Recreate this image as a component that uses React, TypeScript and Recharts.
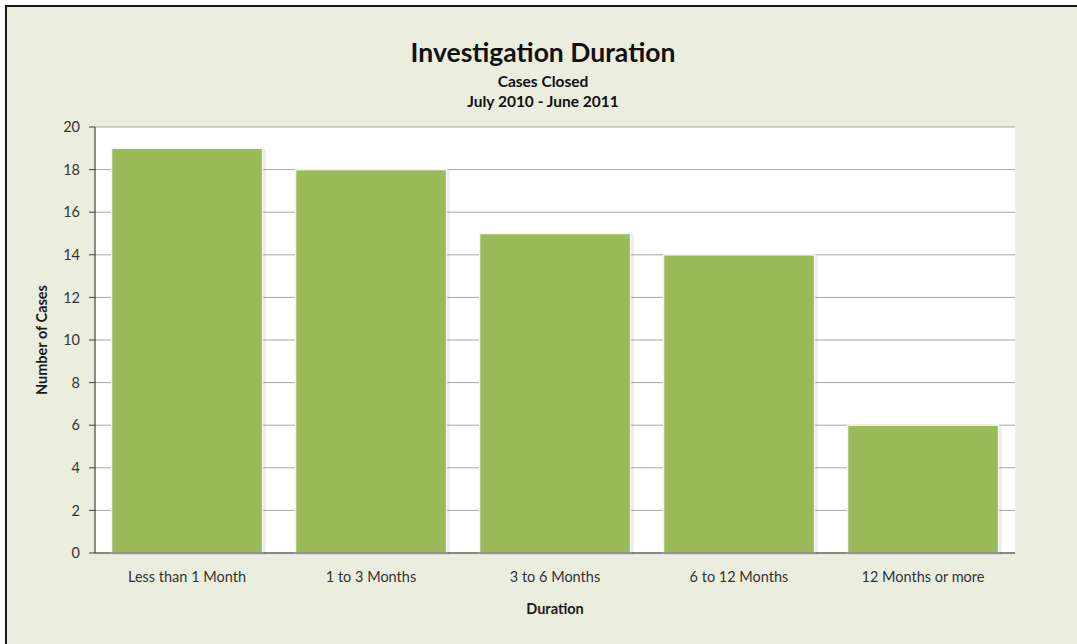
import { BarChart, Bar, XAxis, YAxis, CartesianGrid, Label } from "recharts";

const categories = [
  "Less than 1 Month",
  "1 to 3 Months",
  "3 to 6 Months",
  "6 to 12 Months",
  "12 Months or more",
];
const caseCounts = [19, 18, 15, 14, 6];
const yTicks = [0, 2, 4, 6, 8, 10, 12, 14, 16, 18, 20];

const data = categories.map((name, i) => ({ name, cases: caseCounts[i] }));

const FONT = "Lato, 'Open Sans', sans-serif";

// bar with a thin white rim and a soft shadow, like the Excel style
function ShadowBar(props: any) {
  const { x, y, width, height, fill } = props;
  if (!height || height <= 0) return null;
  return (
    <g>
      <rect x={x + 1} y={y + 1} width={width + 2} height={height + 1} fill="#000" opacity={0.08} />
      <rect x={x} y={y} width={width} height={height} fill={fill} stroke="#f4f4f4" strokeWidth={1.5} />
    </g>
  );
}

export default function App() {
  return (
    <div
      style={{
        position: "absolute",
        left: 0,
        top: 0,
        width: 1077,
        height: 644,
        background: "#fff",
        fontFamily: FONT,
        overflow: "hidden",
      }}
    >
      <div
        style={{
          position: "absolute",
          left: 5,
          top: 5,
          width: 1080,
          height: 650,
          background: "#ebeedf",
          borderLeft: "2px solid #1a1a1a",
          borderTop: "2px solid #1a1a1a",
        }}
      />
      <div
        style={{
          position: "absolute",
          left: 0,
          top: 0,
          width: 1077,
          height: 644,
        }}
      >
        <BarChart
          width={1077}
          height={644}
          data={data}
          margin={{ top: 127, right: 62, bottom: 51, left: 35 }}
          barCategoryGap="9%"
        >
          <CartesianGrid vertical={false} stroke="#a6a6a6" fill="#ffffff" />
          <XAxis
            dataKey="name"
            height={40}
            tickLine={false}
            axisLine={{ stroke: "#404040", strokeWidth: 1.2 }}
            tickMargin={13}
            tick={{ fill: "#333", fontSize: 14.5, fontFamily: FONT }}
          >
            <Label
              value="Duration"
              position="bottom"
              offset={11}
              style={{ fill: "#1a1a1a", fontSize: 14.5, fontWeight: 700, fontFamily: FONT }}
            />
          </XAxis>
          <YAxis
            width={60}
            domain={[0, 20]}
            ticks={yTicks}
            interval={0}
            tickSize={6}
            tickMargin={9}
            tickLine={{ stroke: "#404040" }}
            axisLine={{ stroke: "#404040", strokeWidth: 1.2 }}
            tick={{ fill: "#333", fontSize: 14.5, fontFamily: FONT }}
          >
            <Label
              value="Number of Cases"
              angle={-90}
              position="center"
              dx={-23}
              style={{ fill: "#1a1a1a", fontSize: 14.5, fontWeight: 700, fontFamily: FONT, textAnchor: "middle" }}
            />
          </YAxis>
          <YAxis
            yAxisId="frame"
            orientation="right"
            width={0}
            tick={false}
            tickLine={false}
            axisLine={{ stroke: "#8c8c8c", strokeWidth: 1.5 }}
          />
          <Bar dataKey="cases" fill="#9bbb59" shape={<ShadowBar />} isAnimationActive={false} />
        </BarChart>
      </div>
      <div
        style={{
          position: "absolute",
          left: 0,
          width: 1086,
          top: 39,
          textAlign: "center",
          color: "#111",
          fontWeight: 700,
          lineHeight: 1,
        }}
      >
        <div style={{ fontSize: 26.5 }}>Investigation Duration</div>
        <div style={{ fontSize: 15.5, marginTop: 8 }}>Cases Closed</div>
        <div style={{ fontSize: 15.5, marginTop: 4.5 }}>July 2010 - June 2011</div>
      </div>
    </div>
  );
}
